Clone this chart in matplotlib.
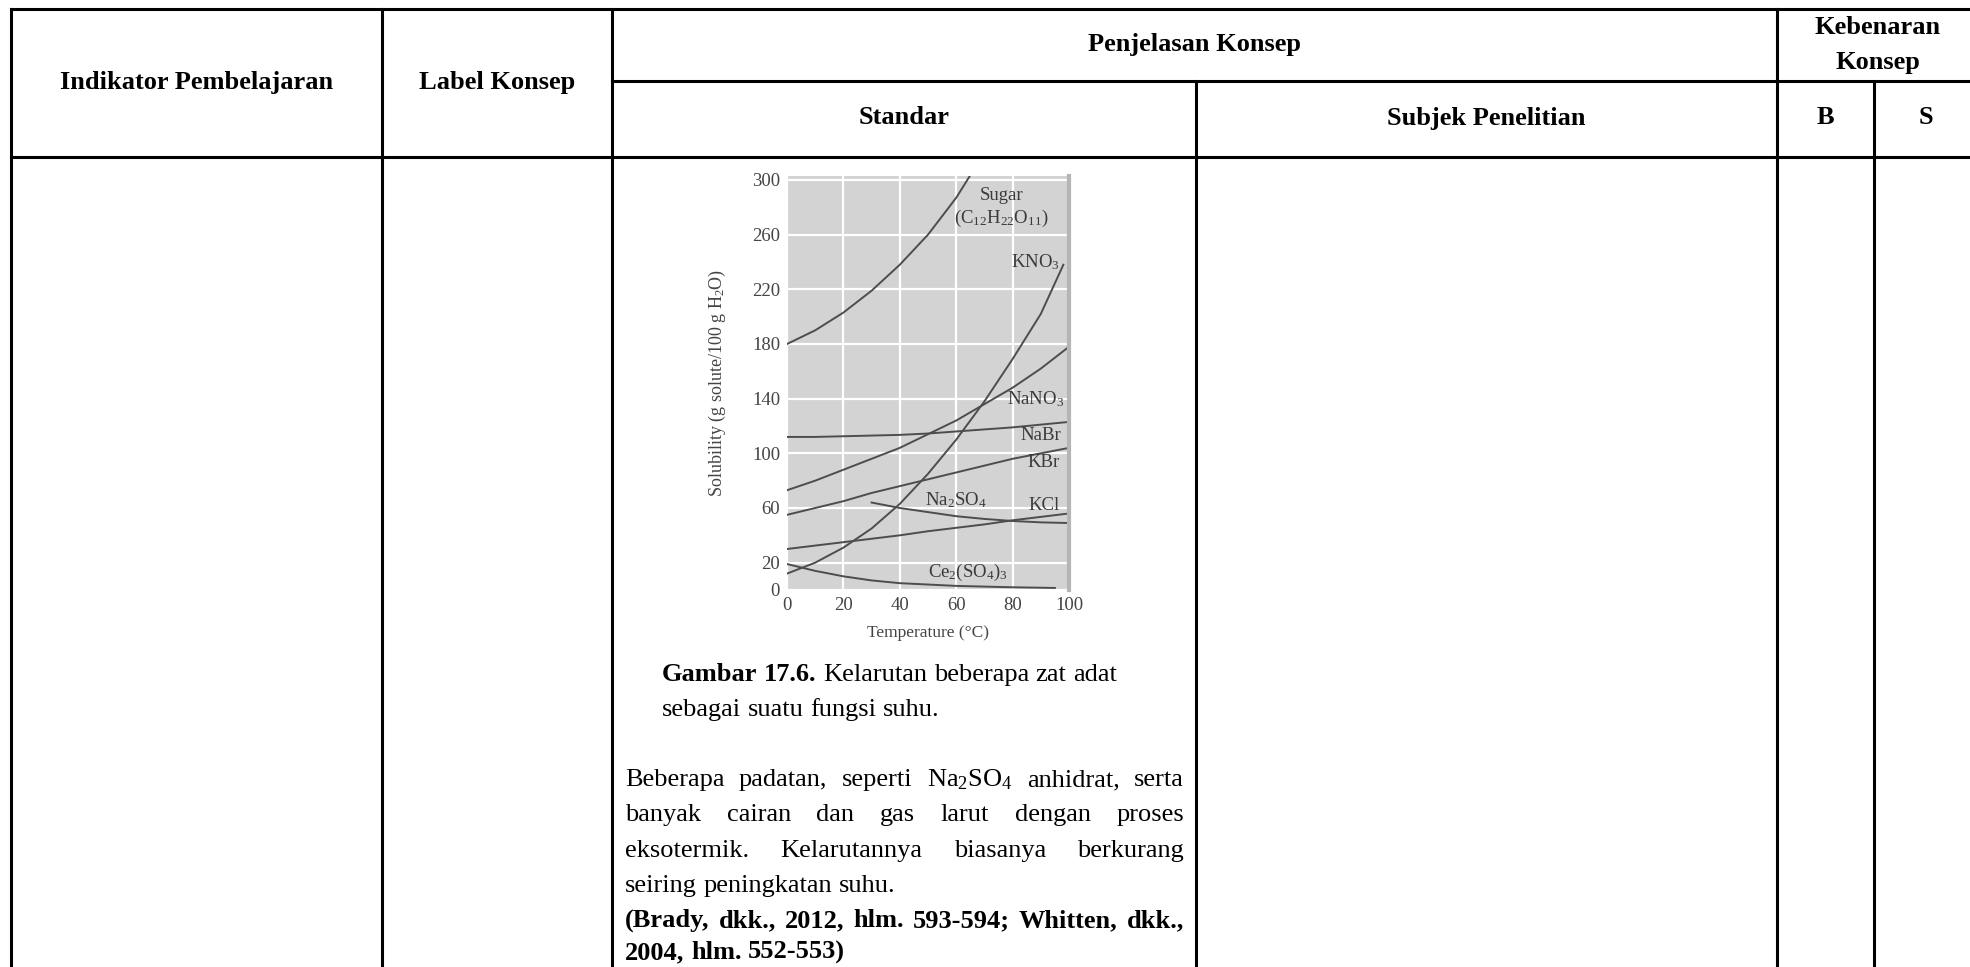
import matplotlib
matplotlib.use('Agg')
import matplotlib.pyplot as plt

plt.rcParams['font.family'] = ['Liberation Serif', 'DejaVu Serif']
plt.rcParams['mathtext.fontset'] = 'custom'
plt.rcParams['mathtext.rm'] = 'Liberation Serif'
plt.rcParams['mathtext.it'] = 'Liberation Serif:italic'
plt.rcParams['mathtext.bf'] = 'Liberation Serif:bold'

W, H = 1970, 967

# solubility (g solute / 100 g H2O)
temp = [0, 10, 20, 30, 40, 50, 60, 70, 80, 90, 100]
sugar_t = [0, 10, 20, 30, 40, 50, 60, 70]
sugar = [180, 190, 203, 219, 238, 260, 287, 320]
kno3_t = [0, 10, 20, 30, 40, 50, 60, 70, 80, 90, 98]
kno3 = [12, 20, 31, 45, 63, 85, 110, 138, 169, 202, 238]
nano3 = [73, 80, 88, 96, 104, 114, 124, 136, 148, 162, 178]
nabr = [112, 112, 112.5, 113, 113.5, 114.5, 116, 117.5, 119, 121, 123]
kbr = [55, 60, 65, 71, 76, 81, 86, 91, 96, 100, 104]
kcl = [30, 32.5, 35, 37.5, 40, 43, 45.5, 48, 51, 53.5, 56]
na2so4_t = [30, 40, 50, 60, 70, 80, 90, 100]
na2so4 = [64, 60, 57, 54, 52, 50.5, 49.5, 49]
ce_t = [0, 10, 20, 30, 40, 50, 60, 70, 80, 95]
ce = [19, 14, 10, 7, 5, 4, 3, 2.5, 2, 1.5]

curve_labels = ['Sugar', r'(C$_{12}$H$_{22}$O$_{11}$)', r'KNO$_3$', r'NaNO$_3$',
                'NaBr', 'KBr', 'KCl', r'Na$_2$SO$_4$', r'Ce$_2$(SO$_4$)$_3$']
label_pos = [(76, 289), (76, 272), (88, 240), (88, 140), (90, 113),
             (91, 93), (91, 62), (60, 66), (64, 13)]

x_ticks = [0, 20, 40, 60, 80, 100]
y_ticks = [0, 20, 60, 100, 140, 180, 220, 260, 300]

# table text
head_top = ['Indikator Pembelajaran', 'Label Konsep', 'Penjelasan Konsep', 'Kebenaran', 'Konsep']
head_sub = ['Standar', 'Subjek Penelitian', 'B', 'S']
caption_bold = 'Gambar 17.6.'
caption_rest = 'Kelarutan beberapa zat adat'
caption_2 = 'sebagai suatu fungsi suhu.'
body = ['Beberapa padatan, seperti Na$_2$SO$_4$ anhidrat, serta',
        'banyak cairan dan gas larut dengan proses',
        'eksotermik. Kelarutannya biasanya berkurang',
        'seiring peningkatan suhu.']
ref = ['(Brady, dkk., 2012, hlm. 593-594; Whitten, dkk.,',
       '2004, hlm. 552-553)']

fig = plt.figure(figsize=(W / 100, H / 100), dpi=100)
tab = fig.add_axes([0, 0, 1, 1])
tab.set_xlim(0, W)
tab.set_ylim(H, 0)
tab.axis('off')

# table grid (right border sits just past the page edge)
LW = 2.2
cx = [11, 382, 612, 1196, 1777, 1874, 1978]
ry = [9, 81, 157]
def hline(y, x0, x1):
    tab.plot([x0, x1], [y, y], color='black', lw=LW, solid_capstyle='projecting')
def vline(x, y0, y1):
    tab.plot([x, x], [y0, y1], color='black', lw=LW, solid_capstyle='projecting')

hline(ry[0], cx[0], cx[6])
hline(ry[1], cx[2], cx[6])
hline(ry[2], cx[0], cx[6])
for x in [cx[0], cx[1], cx[2], cx[4], cx[6]]:
    vline(x, ry[0], H + 5)
for x in [cx[3], cx[5]]:
    vline(x, ry[1], H + 5)

HS = 19
hk = dict(fontsize=HS, fontweight='bold', ha='center', va='center')
tab.text((cx[0] + cx[1]) / 2, 83, head_top[0], **hk)
tab.text((cx[1] + cx[2]) / 2, 83, head_top[1], **hk)
tab.text((cx[2] + cx[4]) / 2, 45, head_top[2], **hk)
tab.text((cx[4] + cx[6]) / 2, 27, head_top[3], **hk)
tab.text((cx[4] + cx[6]) / 2, 62, head_top[4], **hk)
tab.text((cx[2] + cx[3]) / 2, 118, head_sub[0], **hk)
tab.text((cx[3] + cx[4]) / 2, 118, head_sub[1], **hk)
tab.text((cx[4] + cx[5]) / 2, 118, head_sub[2], **hk)
tab.text((cx[5] + cx[6]) / 2, 118, head_sub[3], **hk)

# body text, justified by hand
BS = 19
renderer = fig.canvas.get_renderer()
space = BS * 100 / 72 * 0.25

def put_line(line, y, x0, x1=None, weight='normal'):
    words = line.split(' ')
    objs = [tab.text(0, y, w, fontsize=BS, fontweight=weight, va='baseline', ha='left')
            for w in words]
    widths = [o.get_window_extent(renderer).width for o in objs]
    gap = space if x1 is None else (x1 - x0 - sum(widths)) / (len(words) - 1)
    x = x0
    for o, w in zip(objs, widths):
        o.set_x(x)
        x += w + gap
    return x

xt0, xt1 = 625, 1184
xe = put_line(caption_bold, 681, 662, weight='bold')
put_line(caption_rest, 681, xe)
put_line(caption_2, 716, 662)
ys = [786, 821, 857, 892]
for i, line in enumerate(body):
    put_line(line, ys[i], xt0, xt1 if i < 3 else None)
put_line(ref[0], 927, xt0, xt1, weight='bold')
put_line(ref[1], 959, xt0, weight='bold')

# embedded solubility chart
px_l, px_r = 787, 1069
py_b = 590
ylim_top = 303
py_t = py_b - ylim_top * (410 / 300)
ax = fig.add_axes([px_l / W, 1 - py_b / H, (px_r - px_l) / W, (py_b - py_t) / H])
ax.set_facecolor('#d3d3d3')
ax.set_xlim(0, 100)
ax.set_ylim(0, ylim_top)
ax.set_axisbelow(True)
ax.grid(color='white', lw=1.6)
ax.set_xticks(x_ticks)
ax.set_yticks(y_ticks)
ax.tick_params(length=0, labelsize=13.5, labelcolor='#444444', pad=5)
for s in ax.spines.values():
    s.set_visible(False)
ax.spines['right'].set_visible(True)
ax.spines['right'].set_color('#b5b5b5')
ax.spines['right'].set_linewidth(3)

lc = '#4d4d4d'
ax.plot(sugar_t, sugar, color=lc, lw=1.4)
ax.plot(kno3_t, kno3, color=lc, lw=1.4)
ax.plot(temp, nano3, color=lc, lw=1.4)
ax.plot(temp, nabr, color=lc, lw=1.4)
ax.plot(temp, kbr, color=lc, lw=1.4)
ax.plot(temp, kcl, color=lc, lw=1.4)
ax.plot(na2so4_t, na2so4, color=lc, lw=1.4)
ax.plot(ce_t, ce, color=lc, lw=1.4)

for lab, (lx, ly) in zip(curve_labels, label_pos):
    ax.text(lx, ly, lab, fontsize=13.5, color='#3a3a3a', ha='center', va='center')

ax.set_ylabel('Solubility (g solute/100 g H$_2$O)', fontsize=13, color='#444444')
ax.yaxis.set_label_coords((728 - px_l) / (px_r - px_l), 0.5)
ax.set_xlabel('Temperature (°C)', fontsize=12.5, color='#444444', va='center')
ax.xaxis.set_label_coords(0.5, -(633 - py_b) / (py_b - py_t))

fig.savefig('out.png', dpi=100)
